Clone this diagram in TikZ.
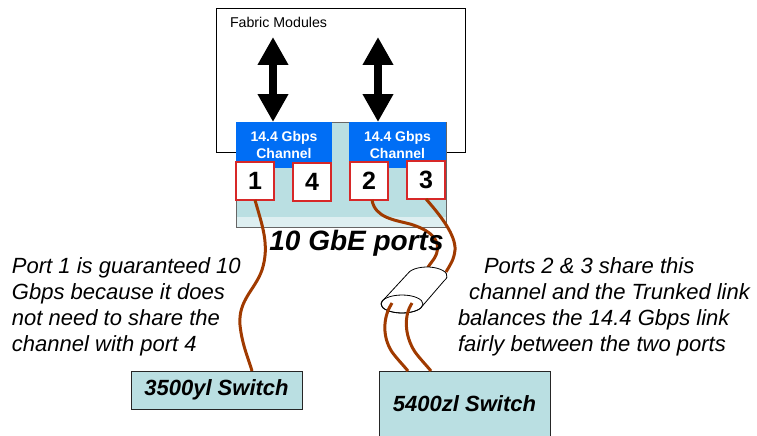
\documentclass[tikz,border=0pt]{standalone}
\usepackage{fontspec}
\setmainfont{Liberation Sans}
\usetikzlibrary{arrows.meta}
\definecolor{chblue}{RGB}{0,110,245}
\definecolor{chcyan}{RGB}{186,223,226}
\definecolor{chstrip}{RGB}{222,239,241}
\definecolor{cablebrown}{RGB}{160,58,0}
\definecolor{portred}{RGB}{215,40,40}
\begin{document}
\begin{tikzpicture}[x=1pt,y=-1pt,
  plain/.style={inner sep=0pt,outer sep=0pt},
  chan/.style={plain,fill=chblue,text=white,align=center,
     font=\bfseries\fontsize{14}{17}\selectfont,minimum height=46pt},
  portbox/.style={plain,fill=white,draw=portred,line width=1.2pt,
     minimum width=38pt,minimum height=38pt,font=\bfseries\fontsize{25}{25}\selectfont},
  switchbox/.style={plain,fill=chcyan,draw=black!85,line width=0.9pt,
     minimum width=171pt,font=\bfseries\itshape\fontsize{22}{24}\selectfont},
  bigarrow/.style={line width=8pt,{Triangle[width=29pt,length=28pt]}-{Triangle[width=29pt,length=28pt]}},
  cable/.style={draw=cablebrown,line width=3pt},
  note/.style={plain,anchor=base west,font=\itshape\fontsize{22}{26}\selectfont}]
\useasboundingbox (0,0) rectangle (757,436);

% fabric modules box
\node[plain,draw=black,line width=0.8pt,minimum width=249pt,minimum height=144pt] (fabric) at (340.5,80) {};
\node[plain,anchor=base west,font=\fontsize{14.2}{16}\selectfont] (fabtxt) at (230,28) {Fabric Modules};

% port block
\node[plain,fill=chcyan,minimum width=210pt,minimum height=105pt] (block) at (341,174.5) {};
\fill[chstrip] (236,217) rectangle (446,227);
\draw[black!60,line width=0.8pt] (block.north west) rectangle (block.south east);

\node[chan,minimum width=96pt] (chanL) at (284,145) {14.4 Gbps\\Channel};
\node[chan,minimum width=97pt] (chanR) at (397.5,145) {14.4 Gbps\\Channel};

\node[portbox] (p1) at (255,181) {1};
\node[portbox] (p4) at (312,182) {4};
\node[portbox] (p2) at (369,181) {2};
\node[portbox] (p3) at (426,180) {3};

% arrows
\coordinate (fa1) at (273,37);
\coordinate (fa2) at (378,37);
\draw[bigarrow] (fa1) -- (fa1 |- chanL.north);
\draw[bigarrow] (fa2) -- (fa2 |- chanR.north);

% switches
\node[switchbox,minimum height=38pt] (sw1) at (216.5,390) {3500yl Switch};
\node[switchbox,minimum height=66pt] (sw2) at (464.5,404) {5400zl Switch};

% cables
\draw[cable] (p1.south) .. controls (262,225) and (270,245) .. (262,270)
   .. controls (255,290) and (238,300) .. (240,325)
   .. controls (242,345) and (249,360) .. ([xshift=35.5pt]sw1.north);
\draw[cable] ([xshift=3pt]p2.south) .. controls (375,218) and (395,220) .. (410,224)
   .. controls (430,230) and (442,240) .. (436,255)
   .. controls (433,262) and (428,265) .. (427,270);
\draw[cable] (p3.south) .. controls (440,215) and (456,235) .. (455,250)
   .. controls (454,260) and (450,265) .. (446,272);

% trunk cylinder
\coordinate (cylB) at (402,304);
\coordinate (cylT) at (427,276);
\filldraw[fill=white,draw=black,line width=0.8pt] (383.8,299.5) -- (409.7,271.5)
   arc[start angle=150,end angle=-30,x radius=20pt,y radius=9pt]
   -- (420.2,308.5)
   arc[start angle=-30,end angle=-210,x radius=21pt,y radius=9pt] -- cycle;
\draw[black,line width=0.8pt] (cylB) ellipse[x radius=21pt,y radius=9pt];

\draw[cable] (392,303) .. controls (384,315) and (381,335) .. (392,352)
   .. controls (398,360) and (404,366) .. ([xshift=-56.5pt]sw2.north);
\draw[cable] (412,303) .. controls (404,315) and (404,335) .. (415,352)
   .. controls (421,360) and (427,366) .. ([xshift=-33.5pt]sw2.north);

% title
\node[plain,anchor=base,font=\bfseries\itshape\fontsize{28}{30}\selectfont] (ports) at (356.5,250) {10 GbE ports};

% notes
\node[note] (tl1) at (12,273) {Port 1 is guaranteed 10};
\node[note] (tl2) at (12,299) {Gbps because it does};
\node[note] (tl3) at (12,325) {not need to share the};
\node[note] (tl4) at (12,351) {channel with port 4};

\node[note] (tr1) at (484,273) {Ports 2 \& 3 share this};
\node[note] (tr2) at (469,299) {channel and the Trunked link};
\node[note] (tr3) at (458,325) {balances the 14.4 Gbps link};
\node[note] (tr4) at (458,351) {fairly between the two ports};
\end{tikzpicture}
\end{document}
